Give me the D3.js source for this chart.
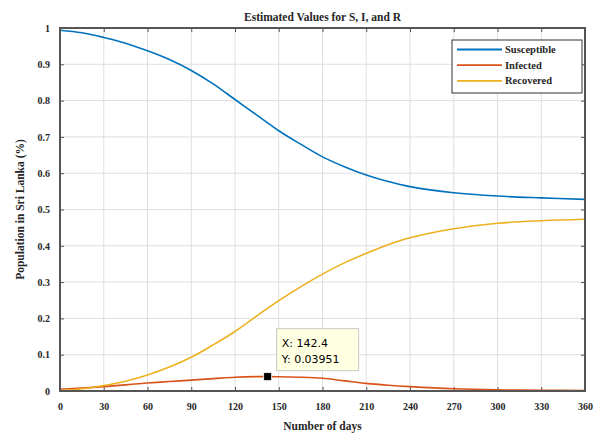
<!DOCTYPE HTML>
<html lang="en">
<head>
<meta charset="utf-8">
<title>Estimated Values for S, I, and R</title>
<script src="https://cdnjs.cloudflare.com/ajax/libs/d3/7.8.5/d3.min.js"></script>
<style>
html,body{margin:0;padding:0;background:#fff}
text{font-family:"Liberation Serif","DejaVu Serif",serif;fill:#262626}
.tick text{font-size:10px}
</style>
</head>
<body>
<div id="chart"></div>
<script>
// values
var days=[0,15,30,45,60,75,90,105,120,135,150,165,180,195,210,225,240,270,300,330,360];
var susceptible=[0.994,0.987,0.974,0.958,0.937,0.913,0.883,0.846,0.803,0.760,0.717,0.680,0.645,0.618,0.595,0.577,0.563,0.546,0.537,0.532,0.528];
var infected=[0.005,0.008,0.012,0.017,0.022,0.026,0.030,0.034,0.038,0.0395,0.0394,0.038,0.035,0.028,0.021,0.016,0.012,0.006,0.003,0.002,0.001];
var recovered=[0.001,0.006,0.015,0.027,0.044,0.066,0.093,0.127,0.164,0.207,0.249,0.287,0.322,0.353,0.379,0.403,0.422,0.447,0.462,0.469,0.473];
var seriesNames=["Susceptible","Infected","Recovered"];
var seriesColors=["#0072BD","#D95319","#EDB120"];
var xTicks=[0,30,60,90,120,150,180,210,240,270,300,330,360];
var yTicks=[0,0.1,0.2,0.3,0.4,0.5,0.6,0.7,0.8,0.9,1];
var tipX=142.4, tipY=0.03951;

var W=600,H=436;
var margin={top:28,right:15,bottom:45,left:60};
var width=W-margin.left-margin.right;
var height=H-margin.top-margin.bottom;

var svg=d3.select("#chart").append("svg")
    .attr("width",W).attr("height",H);
svg.append("rect").attr("width",W).attr("height",H).attr("fill","#fff");
var g=svg.append("g").attr("transform","translate("+margin.left+","+margin.top+")");

var x=d3.scaleLinear().domain([0,360]).range([0,width]);
var y=d3.scaleLinear().domain([0,1]).range([height,0]);

// grid
g.append("g").selectAll("line").data(xTicks).join("line")
    .attr("x1",d=>x(d)).attr("x2",d=>x(d)).attr("y1",0).attr("y2",height)
    .attr("stroke","#dfdfdf").attr("stroke-width",1);
g.append("g").selectAll("line").data(yTicks).join("line")
    .attr("y1",d=>y(d)).attr("y2",d=>y(d)).attr("x1",0).attr("x2",width)
    .attr("stroke","#dfdfdf").attr("stroke-width",1);

// axes with inward ticks (box style)
function styleAxis(sel){
    sel.select(".domain").remove();
    sel.selectAll(".tick line").attr("stroke","#555");
}
g.append("g").attr("transform","translate(0,"+height+")")
    .call(d3.axisBottom(x).tickValues(xTicks).tickSizeInner(-4).tickPadding(12).tickFormat(d3.format("d")))
    .call(styleAxis);
g.append("g")
    .call(d3.axisLeft(y).tickValues(yTicks).tickSizeInner(-4).tickPadding(10).tickFormat(d=>d===0||d===1?d:d3.format(".1f")(d)))
    .call(styleAxis);
g.append("g")
    .call(d3.axisTop(x).tickValues(xTicks).tickSizeInner(-4).tickFormat(""))
    .call(styleAxis);
g.append("g").attr("transform","translate("+width+",0)")
    .call(d3.axisRight(y).tickValues(yTicks).tickSizeInner(-4).tickFormat(""))
    .call(styleAxis);
g.selectAll(".tick text").style("font-weight","bold");

// lines
var line=d3.line().x((d,i)=>x(days[i])).y(d=>y(d)).curve(d3.curveCatmullRom.alpha(0.5));
[susceptible,infected,recovered].forEach(function(s,i){
    g.append("path").datum(s)
        .attr("fill","none").attr("stroke",seriesColors[i])
        .attr("stroke-width",1.6).attr("d",line);
});

// frame
g.append("rect").attr("width",width).attr("height",height)
    .attr("fill","none").attr("stroke","#555").attr("stroke-width",2);

// data tip
var tx=x(tipX), ty=y(tipY);
g.append("rect").attr("x",tx-4).attr("y",ty-4).attr("width",8).attr("height",8)
    .attr("fill","#000").attr("stroke","#fff").attr("stroke-width",0.8);
var tip=g.append("g").attr("transform","translate("+(tx+9)+","+(ty-48)+")");
tip.append("rect").attr("width",82).attr("height",42)
    .attr("fill","#ffffe1").attr("stroke","#c8c8c8");
tip.append("text").attr("x",5).attr("y",18).attr("font-size",11)
    .style("font-family","'DejaVu Sans',sans-serif").style("fill","#000").text("X: "+tipX);
tip.append("text").attr("x",5).attr("y",34).attr("font-size",11)
    .style("font-family","'DejaVu Sans',sans-serif").style("fill","#000").text("Y: "+tipY);

// legend
var leg=g.append("g").attr("transform","translate("+(width-133)+",12)");
leg.append("rect").attr("width",130).attr("height",53)
    .attr("fill","#fff").attr("stroke","#333").attr("stroke-width",1);
seriesNames.forEach(function(n,i){
    var ly=9.5+i*15.7;
    leg.append("line").attr("x1",5).attr("x2",50).attr("y1",ly).attr("y2",ly)
        .attr("stroke",seriesColors[i]).attr("stroke-width",1.8);
    leg.append("text").attr("x",53).attr("y",ly+3.5).attr("font-size",10.5)
        .style("font-weight","bold").text(n);
});

// titles
svg.append("text").attr("x",margin.left+width/2).attr("y",21)
    .attr("text-anchor","middle").attr("font-size",11.5).style("font-weight","bold")
    .text("Estimated Values for S, I, and R");
svg.append("text").attr("x",margin.left+width/2).attr("y",430)
    .attr("text-anchor","middle").attr("font-size",11.5).style("font-weight","bold")
    .text("Number of days");
svg.append("text").attr("transform","translate(24,"+(margin.top+height/2)+") rotate(-90)")
    .attr("text-anchor","middle").attr("font-size",11.5).style("font-weight","bold")
    .text("Population in Sri Lanka (%)");
</script>
</body>
</html>
